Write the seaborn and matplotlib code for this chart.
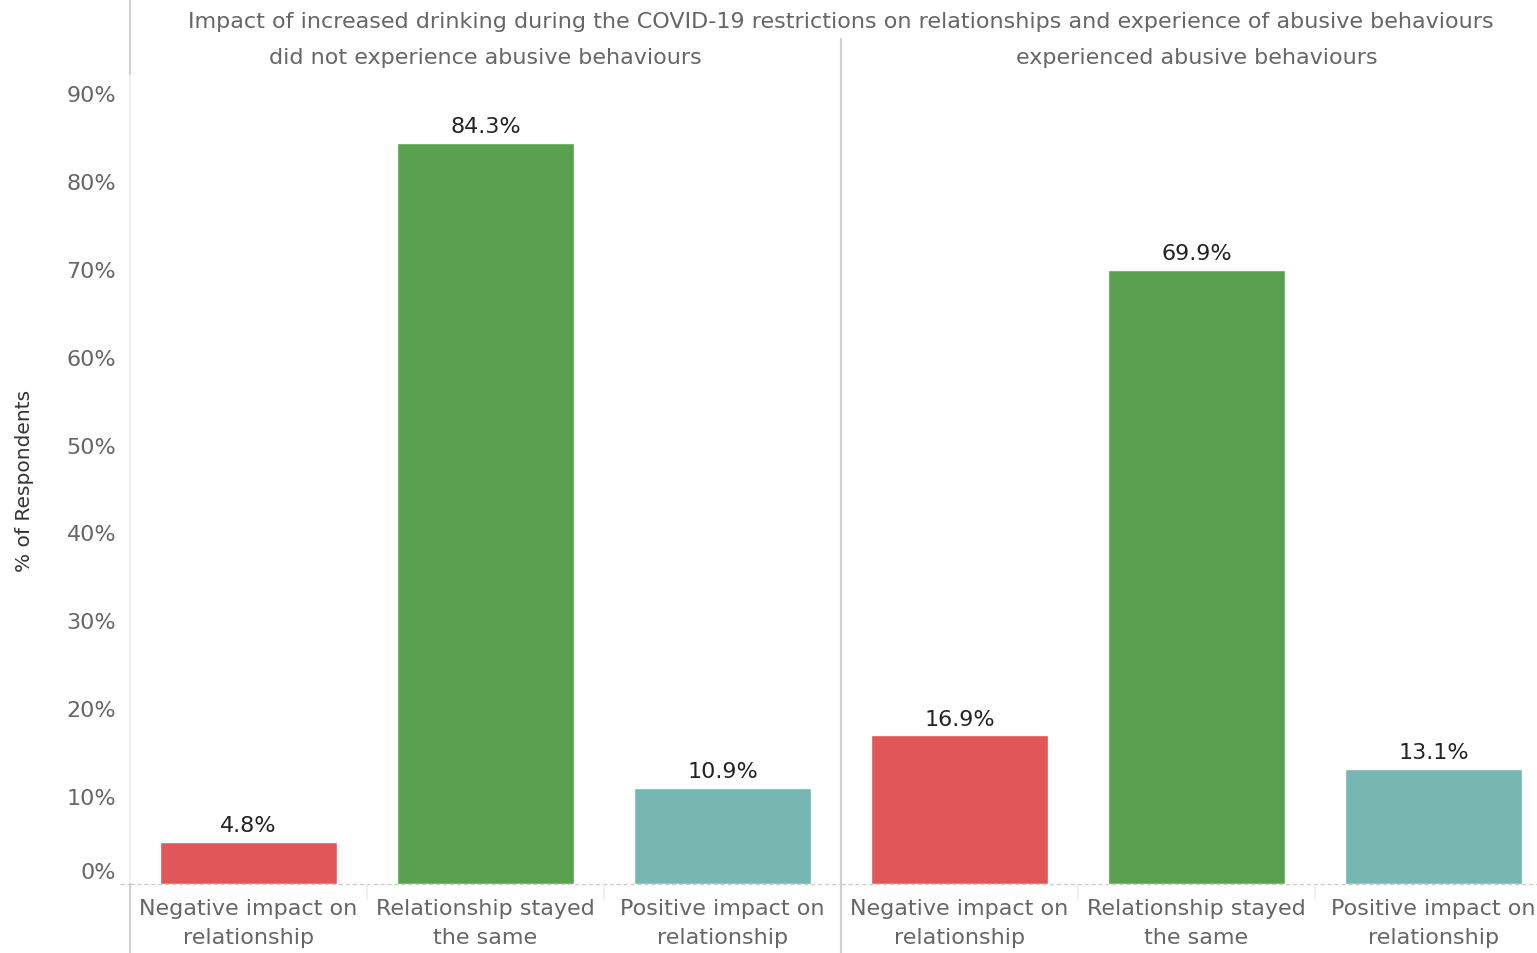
import numpy as np
import pandas as pd
import matplotlib
matplotlib.use("Agg")
import matplotlib.pyplot as plt
import matplotlib.transforms as mtransforms
from matplotlib.lines import Line2D
import seaborn as sns

# data
categories = ["Negative impact on\nrelationship", "Relationship stayed\nthe same", "Positive impact on\nrelationship"]
groups = ["did not experience abusive behaviours", "experienced abusive behaviours"]
no_abuse_pct = [4.8, 84.3, 10.9]
abuse_pct = [16.9, 69.9, 13.1]
y_ticks = [0, 10, 20, 30, 40, 50, 60, 70, 80, 90]
title = "Impact of increased drinking during the COVID-19 restrictions on relationships and experience of abusive behaviours"

colors = ["#E15759", "#59A14F", "#76B7B2"]

df = pd.DataFrame({
    "group": [groups[0]] * 3 + [groups[1]] * 3,
    "impact": categories * 2,
    "pct": no_abuse_pct + abuse_pct,
})

sns.set_style("white")
plt.rcParams["font.family"] = ["DejaVu Sans"]
FS = 16

W, H = 1537, 954
fig = plt.figure(figsize=(W / 100, H / 100), dpi=100)

def fx(px):
    return px / W

def fy(py):
    return 1 - py / H

left, mid, panel_w = 130, 841, 711
bottom_px, top_px = 885, 76
ymax = (bottom_px - top_px) / ((bottom_px - 94) / 90)

for i, g in enumerate(groups):
    x0 = left + i * panel_w
    ax = fig.add_axes([fx(x0), fy(bottom_px), fx(panel_w), (bottom_px - top_px) / H])
    sub = df[df["group"] == g]
    sns.barplot(data=sub, x="impact", y="pct", hue="impact", palette=colors,
                order=categories, hue_order=categories, width=0.75,
                legend=False, ax=ax, saturation=1)
    ax.set_ylim(0, ymax)
    ax.set_xlim(-0.5, 2.5)
    for c in ax.containers:
        ax.bar_label(c, labels=[f"{v:.1f}%" for v in c.datavalues], padding=5,
                     fontsize=FS, color="#222222")
    for s in ax.spines.values():
        s.set_visible(False)
    ax.axhline(0, color="#cccccc", lw=1, ls=(0, (3, 2)), clip_on=False)
    ax.set_xlabel("")
    ax.set_ylabel("")
    ax.tick_params(axis="x", length=0, pad=10, labelsize=FS, labelcolor="#666666")
    for lab in ax.get_xticklabels():
        lab.set_linespacing(1.6)
    ax.text(0.5, (bottom_px - 58) / (bottom_px - top_px), g, transform=ax.transAxes,
            ha="center", va="center", fontsize=FS, color="#666666")
    if i == 0:
        ax.set_yticks(y_ticks)
        ax.set_yticklabels([f"{t}%" for t in y_ticks])
        ax.tick_params(axis="y", length=7, color="#eeeeee", pad=3,
                       labelsize=FS, labelcolor="#666666")
        # lift the 0% label a little above the baseline
        zero_lab = ax.get_yticklabels()[0]
        zero_lab.set_transform(zero_lab.get_transform() +
                               mtransforms.ScaledTranslation(0, 14 / 100, fig.dpi_scale_trans))
        ax.set_ylabel("% of Respondents", fontsize=14.5, color="#333333", labelpad=23)
    else:
        ax.set_yticks([])

# extend dashed baseline into left margin
fig.add_artist(Line2D([fx(120), fx(130)], [fy(885), fy(885)], color="#cccccc",
                      lw=1, ls=(0, (3, 2))))

# header title
fig.text(fx(841), fy(22), title, ha="center", va="center", fontsize=FS, color="#666666")

# frame lines
fig.add_artist(Line2D([fx(130), fx(130)], [fy(0), fy(76)], color="#d0d0d0", lw=1.5))
fig.add_artist(Line2D([fx(130), fx(130)], [fy(76), fy(885)], color="#eeeeee", lw=1.2))
fig.add_artist(Line2D([fx(130), fx(130)], [fy(885), fy(954)], color="#d0d0d0", lw=1.5))
fig.add_artist(Line2D([fx(841), fx(841)], [fy(40), fy(954)], color="#d0d0d0", lw=1.5))

# separators between x labels
for x0 in (left, mid):
    for k in (1, 2):
        xs = x0 + k * panel_w / 3
        fig.add_artist(Line2D([fx(xs), fx(xs)], [fy(886), fy(900)], color="#eeeeee", lw=1.2))

fig.savefig("out.png", dpi=100)
